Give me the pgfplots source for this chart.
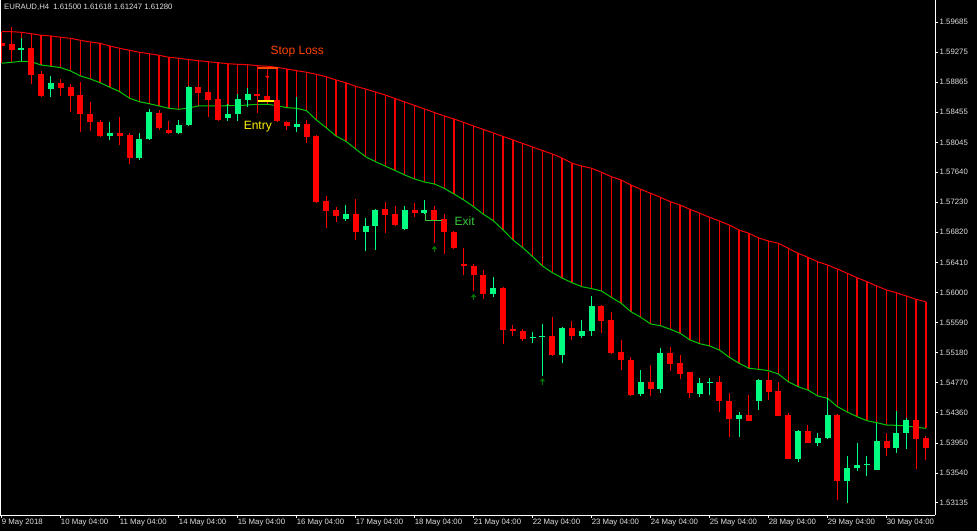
\documentclass[border=0pt]{standalone}
\usepackage{pgfplots}
\usepackage{pgfplotstable}
\pgfplotsset{compat=1.18}
\usepackage{fontspec}
\setmainfont{Liberation Sans}

\definecolor{bull}{RGB}{0,255,128}
\definecolor{bear}{RGB}{255,0,0}
\definecolor{bandred}{RGB}{245,0,0}
\definecolor{bandgreen}{RGB}{0,200,0}
\definecolor{slcol}{RGB}{255,69,0}
\definecolor{exitcol}{RGB}{60,200,60}
\definecolor{arrgreen}{RGB}{0,120,0}
\definecolor{fg}{RGB}{225,225,225}

\newcommand\tickfont{\fontsize{7.8}{9}\selectfont}
\newcommand\annfont{\fontsize{12}{14}\selectfont}

% arrows used by the trade markers
\pgfdeclareplotmark{uarr}{%
  \pgfsetlinewidth{1.4pt}%
  \pgfpathmoveto{\pgfqpoint{0pt}{-3pt}}\pgfpathlineto{\pgfqpoint{0pt}{1pt}}\pgfusepathqstroke
  \pgfpathmoveto{\pgfqpoint{-2.8pt}{0.3pt}}\pgfpathlineto{\pgfqpoint{0pt}{3.5pt}}%
  \pgfpathlineto{\pgfqpoint{2.8pt}{0.3pt}}\pgfpathclose\pgfusepathqfill}
\pgfdeclareplotmark{darr}{%
  \pgfsetlinewidth{1pt}%
  \pgfpathmoveto{\pgfqpoint{0pt}{3pt}}\pgfpathlineto{\pgfqpoint{0pt}{-1pt}}\pgfusepathqstroke
  \pgfpathmoveto{\pgfqpoint{-2.2pt}{-0.3pt}}\pgfpathlineto{\pgfqpoint{0pt}{-3pt}}%
  \pgfpathlineto{\pgfqpoint{2.2pt}{-0.3pt}}\pgfpathclose\pgfusepathqfill}

% upper / lower band per H4 bar
\pgfplotstableread{
i U B
0 1.59553 1.59123
1 1.59553 1.59136
2 1.59545 1.59150
3 1.59526 1.59144
4 1.59504 1.59099
5 1.59495 1.59082
6 1.59477 1.59063
7 1.59463 1.59018
8 1.59436 1.58950
9 1.59413 1.58909
10 1.59395 1.58858
11 1.59358 1.58796
12 1.59327 1.58736
13 1.59300 1.58646
14 1.59272 1.58599
15 1.59253 1.58572
16 1.59232 1.58541
17 1.59204 1.58509
18 1.59191 1.58496
19 1.59174 1.58514
20 1.59158 1.58541
21 1.59144 1.58541
22 1.59131 1.58541
23 1.59117 1.58545
24 1.59109 1.58545
25 1.59104 1.58554
26 1.59090 1.58564
27 1.59082 1.58564
28 1.59068 1.58545
29 1.59045 1.58518
30 1.59022 1.58509
31 1.59000 1.58477
32 1.58973 1.58350
33 1.58940 1.58245
34 1.58895 1.58132
35 1.58858 1.58060
36 1.58809 1.57955
37 1.58772 1.57850
38 1.58732 1.57782
39 1.58691 1.57723
40 1.58643 1.57662
41 1.58595 1.57601
42 1.58548 1.57546
43 1.58500 1.57505
44 1.58452 1.57478
45 1.58405 1.57419
46 1.58364 1.57342
47 1.58316 1.57260
48 1.58268 1.57169
49 1.58221 1.57065
50 1.58173 1.56978
51 1.58125 1.56851
52 1.58078 1.56715
53 1.58030 1.56610
54 1.57982 1.56488
55 1.57934 1.56361
56 1.57887 1.56270
57 1.57832 1.56197
58 1.57760 1.56133
59 1.57723 1.56079
60 1.57692 1.56052
61 1.57637 1.56020
62 1.57578 1.55934
63 1.57533 1.55853
64 1.57464 1.55738
65 1.57406 1.55662
66 1.57351 1.55571
67 1.57297 1.55547
68 1.57237 1.55498
69 1.57192 1.55444
70 1.57133 1.55353
71 1.57079 1.55302
72 1.57024 1.55271
73 1.56974 1.55216
74 1.56919 1.55117
75 1.56851 1.55035
76 1.56806 1.54967
77 1.56742 1.54953
78 1.56701 1.54934
79 1.56670 1.54889
80 1.56602 1.54784
81 1.56534 1.54716
82 1.56479 1.54671
83 1.56419 1.54590
84 1.56374 1.54558
85 1.56320 1.54444
86 1.56261 1.54372
87 1.56201 1.54308
88 1.56147 1.54253
89 1.56088 1.54226
90 1.56034 1.54194
91 1.55997 1.54190
92 1.55952 1.54181
93 1.55907 1.54163
94 1.55874 1.54149
}\bands

% bearish candles: open high low close
\pgfplotstableread{
i O H L C
0 1.59399 1.59440 1.59304 1.59358
1 1.59386 1.59617 1.59222 1.59304
3 1.59331 1.59358 1.58841 1.58963
4 1.58977 1.59018 1.58663 1.58677
6 1.58854 1.58909 1.58677 1.58786
7 1.58800 1.58841 1.58459 1.58677
8 1.58691 1.58868 1.58187 1.58432
9 1.58432 1.58595 1.58200 1.58323
10 1.58323 1.58350 1.58118 1.58132
12 1.58173 1.58391 1.58009 1.58132
13 1.58146 1.58173 1.57751 1.57832
16 1.58445 1.58486 1.58214 1.58241
17 1.58214 1.58336 1.58159 1.58173
20 1.58800 1.58827 1.58704 1.58718
21 1.58732 1.58759 1.58391 1.58623
22 1.58636 1.58650 1.58336 1.58350
26 1.58704 1.58786 1.58445 1.58677
27 1.58677 1.58732 1.58568 1.58623
28 1.58623 1.58636 1.58323 1.58336
29 1.58323 1.58336 1.58214 1.58268
31 1.58296 1.58350 1.58037 1.58118
32 1.58132 1.58146 1.57219 1.57233
33 1.57246 1.57315 1.56879 1.57110
34 1.57124 1.57165 1.56960 1.57042
36 1.57069 1.57274 1.56715 1.56824
39 1.57137 1.57233 1.56810 1.57056
40 1.57069 1.57178 1.56906 1.56919
42 1.57124 1.57219 1.57028 1.57083
44 1.57124 1.57178 1.56674 1.56974
45 1.57001 1.57069 1.56524 1.56824
46 1.56824 1.56838 1.56592 1.56606
47 1.56388 1.56606 1.56238 1.56361
48 1.56361 1.56388 1.56020 1.56238
49 1.56238 1.56306 1.55911 1.55979
51 1.56061 1.56075 1.55298 1.55489
52 1.55502 1.55557 1.55407 1.55475
53 1.55475 1.55502 1.55339 1.55366
56 1.55407 1.55666 1.55135 1.55148
58 1.55516 1.55611 1.55353 1.55407
61 1.55816 1.55829 1.55448 1.55611
62 1.55625 1.55734 1.55162 1.55175
63 1.55189 1.55353 1.54944 1.55080
64 1.55080 1.55121 1.54590 1.54603
66 1.54780 1.55012 1.54590 1.54685
68 1.55175 1.55257 1.54930 1.55026
69 1.55039 1.55148 1.54821 1.54889
70 1.54917 1.54917 1.54562 1.54630
73 1.54780 1.54862 1.54372 1.54521
74 1.54521 1.54630 1.54031 1.54276
76 1.54331 1.54603 1.54249 1.54249
78 1.54808 1.54917 1.54535 1.54644
79 1.54658 1.54780 1.54317 1.54317
80 1.54331 1.54358 1.53731 1.53731
82 1.54113 1.54194 1.53949 1.53949
85 1.54331 1.54344 1.53173 1.53431
90 1.53976 1.54085 1.53772 1.53881
93 1.54263 1.54263 1.53595 1.54004
94 1.54017 1.54045 1.53718 1.53881
}\bear

% bullish candles
\pgfplotstableread{
i O H L C
2 1.59304 1.59467 1.59154 1.59331
5 1.58772 1.58950 1.58663 1.58854
11 1.58132 1.58323 1.58078 1.58173
14 1.57832 1.58173 1.57805 1.58091
15 1.58091 1.58500 1.58078 1.58459
18 1.58173 1.58350 1.58159 1.58282
19 1.58282 1.58813 1.58268 1.58800
23 1.58377 1.58568 1.58336 1.58432
24 1.58432 1.58704 1.58336 1.58636
25 1.58623 1.58786 1.58527 1.58704
30 1.58255 1.58663 1.58187 1.58296
35 1.57001 1.57192 1.56974 1.57069
37 1.56824 1.57015 1.56565 1.56906
38 1.56906 1.57137 1.56579 1.57124
41 1.56865 1.57178 1.56851 1.57124
43 1.57083 1.57260 1.57069 1.57124
50 1.55979 1.56211 1.55938 1.56061
54 1.55380 1.55462 1.55312 1.55393
55 1.55393 1.55571 1.54862 1.55407
57 1.55148 1.55530 1.55039 1.55516
59 1.55407 1.55625 1.55380 1.55475
60 1.55475 1.55952 1.55407 1.55816
65 1.54617 1.54944 1.54590 1.54780
67 1.54685 1.55244 1.54630 1.55175
71 1.54617 1.54835 1.54576 1.54767
72 1.54767 1.54835 1.54603 1.54780
75 1.54276 1.54372 1.54031 1.54331
77 1.54521 1.54821 1.54399 1.54808
81 1.53731 1.54126 1.53690 1.54113
83 1.53949 1.54085 1.53908 1.54017
84 1.54017 1.54562 1.54004 1.54331
86 1.53431 1.53772 1.53132 1.53609
87 1.53609 1.53949 1.53568 1.53649
88 1.53656 1.53772 1.53500 1.53663
89 1.53581 1.54222 1.53581 1.53976
91 1.53881 1.54385 1.53813 1.54085
92 1.54085 1.54290 1.53867 1.54263
}\bull

\begin{document}
\begin{tikzpicture}[x=1pt,y=1pt]
\fill[black] (0,0) rectangle (977,531);
\begin{axis}[
  at={(0pt,16pt)}, anchor=south west,
  scale only axis, width=935pt, height=515pt,
  xmin=-0.18, xmax=94.93, ymin=1.52968, ymax=1.59985,
  separate axis lines,
  axis x line*=bottom, axis y line*=right,
  axis line style={white, line width=1pt},
  tick align=outside, major tick length=3pt,
  tick style={white, line width=0.8pt},
  xtick={0,6,...,90},
  xticklabels={9 May 2018, 10 May 04:00, 11 May 04:00, 14 May 04:00,
    15 May 04:00, 16 May 04:00, 17 May 04:00, 18 May 04:00, 21 May 04:00,
    22 May 04:00, 23 May 04:00, 24 May 04:00, 25 May 04:00, 28 May 04:00,
    29 May 04:00, 30 May 04:00},
  xticklabel style={anchor=north west, inner sep=0pt, yshift=-0.5pt, font=\tickfont, text=fg},
  ytick={1.53135,1.53540,1.53950,1.54360,1.54770,1.55180,1.55590,1.56000,
    1.56410,1.56820,1.57230,1.57640,1.58045,1.58455,1.58865,1.59275,1.59685},
  yticklabels={1.53135,1.53540,1.53950,1.54360,1.54770,1.55180,1.55590,1.56000,
    1.56410,1.56820,1.57230,1.57640,1.58045,1.58455,1.58865,1.59275,1.59685},
  yticklabel style={anchor=west, inner sep=0pt, xshift=1.5pt, font=\tickfont, text=fg},
  error bars/error mark=none,
]
% band: one red stroke per bar from lower to upper line
\addplot[draw=none, mark=none, forget plot,
  error bars/.cd, y dir=plus, y explicit,
  error bar style={draw=bandred, line width=1.3pt}]
  table[x=i, y=B, y error plus expr=\thisrow{U}-\thisrow{B}] {\bands};
\addplot[bandred, line width=1pt, mark=none] table[x=i, y=U] {\bands};
\addplot[bandgreen, line width=1pt, mark=none] table[x=i, y=B] {\bands};

% wicks
\addplot[draw=none, mark=none,
  error bars/.cd, y dir=plus, y explicit,
  error bar style={draw=bear, line width=1pt}]
  table[x=i, y=L, y error plus expr=\thisrow{H}-\thisrow{L}] {\bear};
\addplot[draw=none, mark=none,
  error bars/.cd, y dir=plus, y explicit,
  error bar style={draw=bull, line width=1pt}]
  table[x=i, y=L, y error plus expr=\thisrow{H}-\thisrow{L}] {\bull};
% bodies
\addplot[draw=none, mark=none,
  error bars/.cd, y dir=plus, y explicit,
  error bar style={draw=bear, line width=6pt}]
  table[x=i, y=C, y error plus expr=\thisrow{O}-\thisrow{C}] {\bear};
\addplot[draw=none, mark=none,
  error bars/.cd, y dir=plus, y explicit,
  error bar style={draw=bull, line width=6pt}]
  table[x=i, y=O, y error plus expr=\thisrow{C}-\thisrow{O}] {\bull};

% trade levels
\addplot[slcol, line width=2pt] coordinates {(26.03,1.59052) (28.07,1.59052)};
\addplot[yellow, line width=2pt] coordinates {(26.03,1.58613) (27.72,1.58613)};
\addplot[exitcol, line width=1.2pt] coordinates {(43.12,1.57083) (43.12,1.56978) (44.75,1.56978)};
\addplot[only marks, mark=darr, color=red] coordinates {(27.01,1.58954)};
\addplot[only marks, mark=uarr, color=arrgreen] coordinates {(44,1.56588) (48,1.55934) (55,1.54784)};

\node[anchor=base, inner sep=0pt, font=\annfont, text=slcol] at (axis cs:30.06,1.59240) {Stop Loss};
\node[anchor=base, inner sep=0pt, font=\annfont, text=yellow] at (axis cs:26.04,1.58223) {Entry};
\node[anchor=base, inner sep=0pt, font=\annfont, text=exitcol] at (axis cs:47.09,1.56919) {Exit};

\draw[white, line width=1pt] ([xshift=0.5pt]rel axis cs:0,0) -- ([xshift=0.5pt]rel axis cs:0,1);
\end{axis}
\node[anchor=base west, inner sep=0pt, font=\tickfont, text=fg] at (4,521)
  {EURAUD,H4\hspace{4pt}1.61500 1.61618 1.61247 1.61280};
\pgfresetboundingbox
\path[use as bounding box] (0,0) rectangle (977,531);
\end{tikzpicture}
\end{document}
